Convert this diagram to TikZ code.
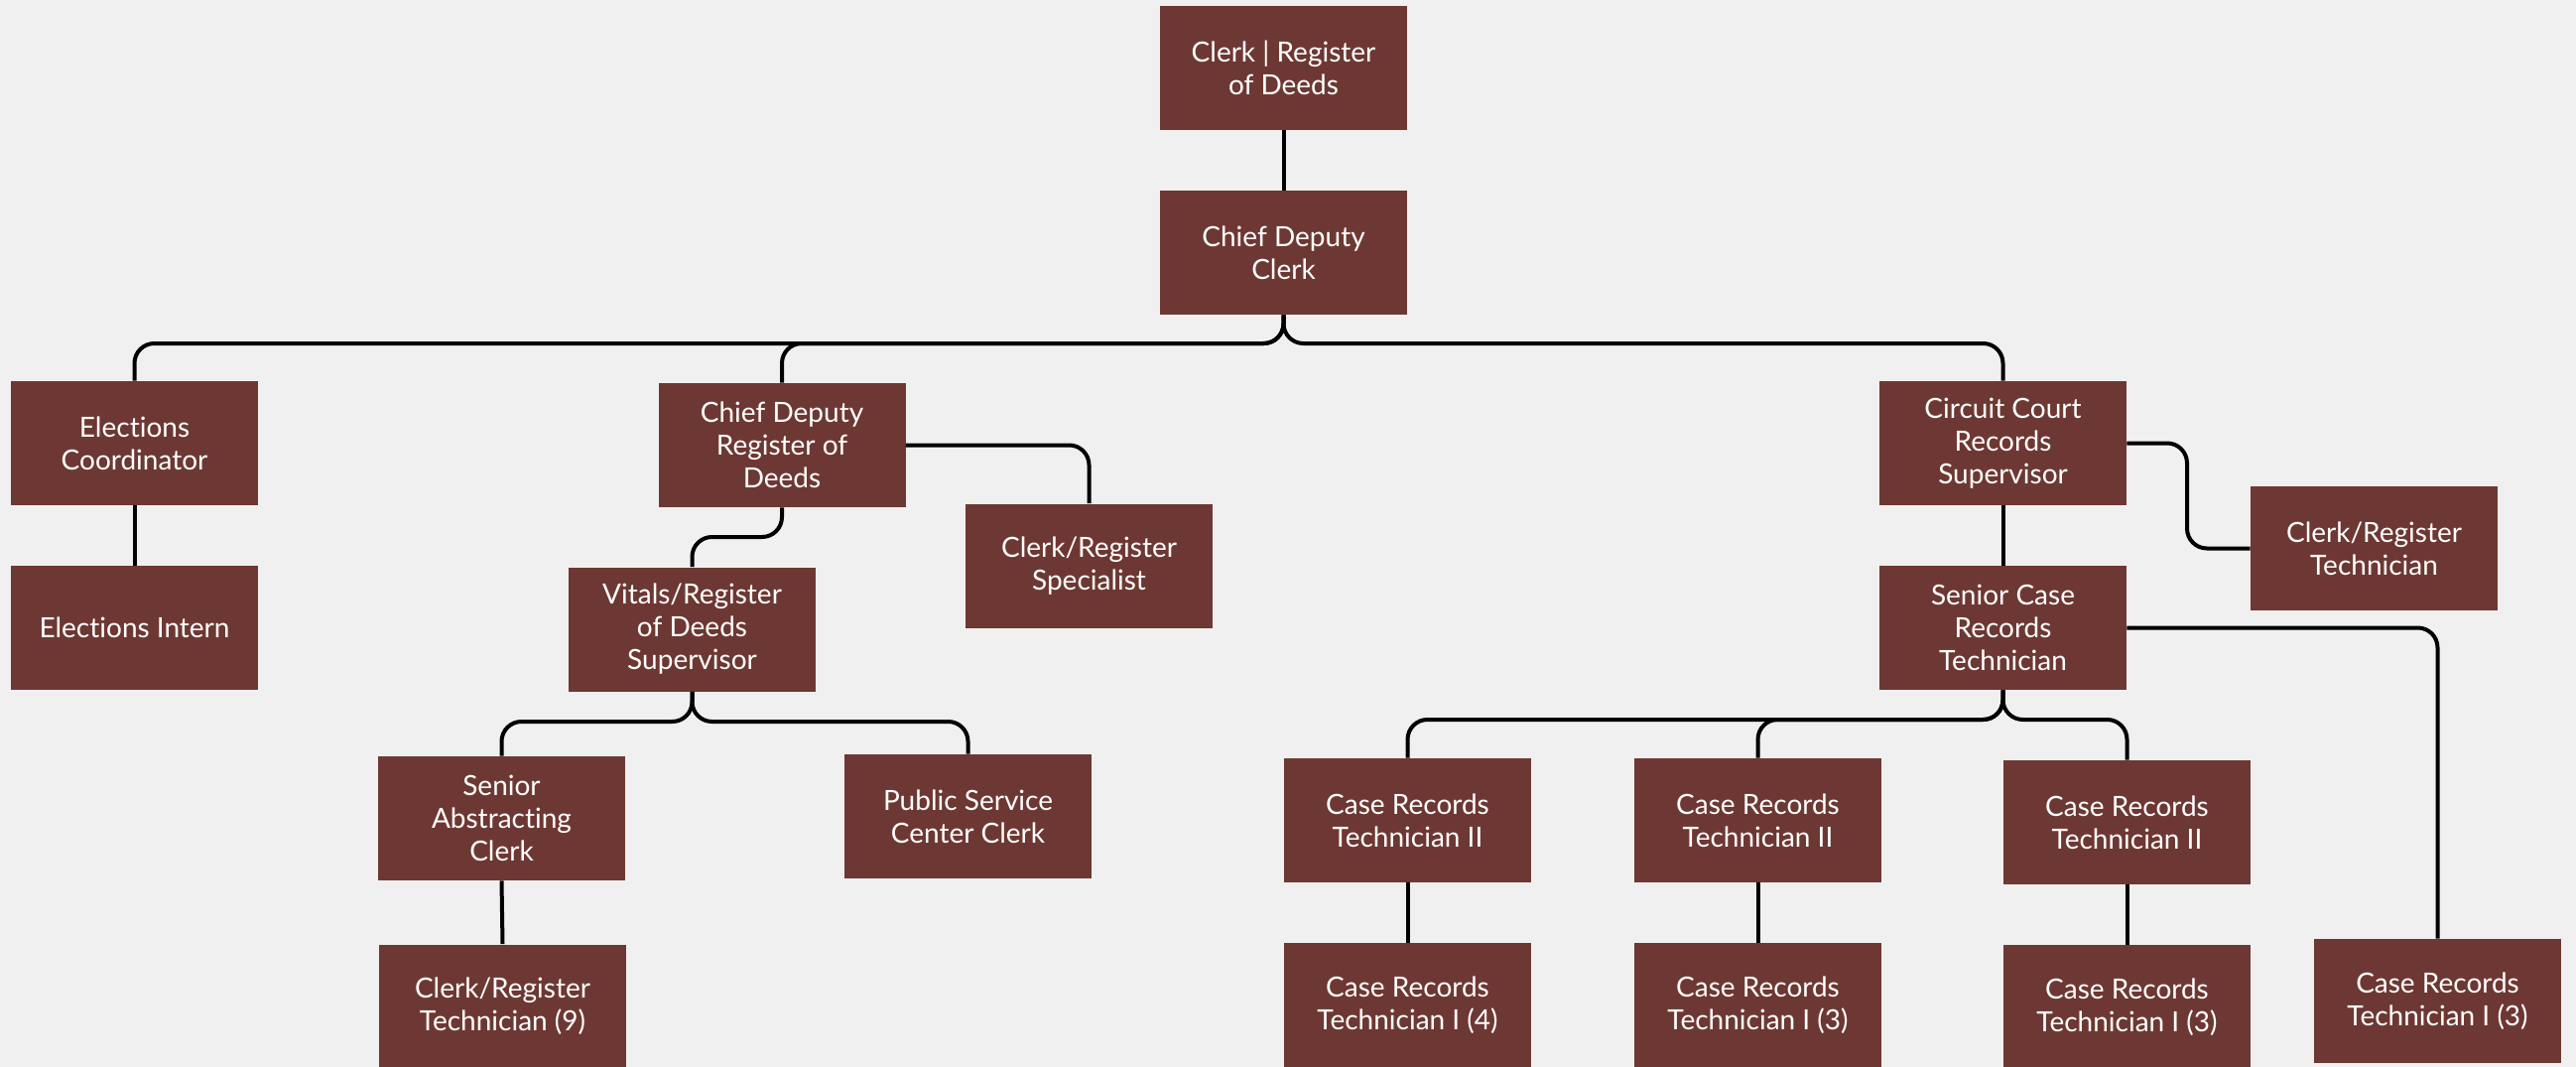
\documentclass[tikz,border=0pt]{standalone}
\usepackage{fontspec}
\setmainfont[Ligatures=NoCommon]{Lato}
\definecolor{boxc}{HTML}{6D3833}
\definecolor{bgc}{HTML}{F0F0F0}
\begin{document}
\begin{tikzpicture}[x=0.5pt,y=-0.5pt,
  rolebox/.style={fill=boxc,text=white,minimum width=124.5pt,minimum height=62.5pt,
    inner sep=0pt,align=center,font=\fontsize{14pt}{16.5pt}\selectfont},
  conn/.style={draw=black,line width=2pt,rounded corners=10pt}]
\fill[bgc] (0,0) rectangle (2596,1075);
\useasboundingbox (0,0) rectangle (2596,1075);
% nodes
\node[rolebox] (clerk) at (1293.5,68.5) {Clerk | Register\\of Deeds};
\node[rolebox] (cdc) at (1293.5,254.5) {Chief Deputy\\Clerk};
\node[rolebox] (elec) at (135.5,446.5) {Elections\\Coordinator};
\node[rolebox] (intern) at (135.5,632.5) {Elections Intern};
\node[rolebox] (cdr) at (788,448.5) {Chief Deputy\\Register of\\Deeds};
\node[rolebox] (spec) at (1097.5,570) {Clerk/Register\\Specialist};
\node[rolebox] (vitals) at (697.5,634) {Vitals/Register\\of Deeds\\Supervisor};
\node[rolebox] (sac) at (505.5,824.5) {Senior\\Abstracting\\Clerk};
\node[rolebox] (psc) at (975.5,822.5) {Public Service\\Center Clerk};
\node[rolebox] (crt9) at (506.5,1014) {Clerk/Register\\Technician (9)};
\node[rolebox] (ccrs) at (2018.5,446.5) {Circuit Court\\Records\\Supervisor};
\node[rolebox] (crtech) at (2392.5,552.5) {Clerk/Register\\Technician};
\node[rolebox] (scrt) at (2018.5,632.5) {Senior Case\\Records\\Technician};
\node[rolebox] (c2a) at (1418.5,826.5) {Case Records\\Technician II};
\node[rolebox] (c2b) at (1771.5,826.5) {Case Records\\Technician II};
\node[rolebox] (c2c) at (2143.5,828.5) {Case Records\\Technician II};
\node[rolebox] (c1a) at (1418.5,1012.5) {Case Records\\Technician I (4)};
\node[rolebox] (c1b) at (1771.5,1012.5) {Case Records\\Technician I (3)};
\node[rolebox] (c1c) at (2143.5,1014.5) {Case Records\\Technician I (3)};
\node[rolebox] (c1d) at (2456.5,1008.5) {Case Records\\Technician I (3)};
% bar levels
\coordinate (barA) at (0,346);
\coordinate (barB) at (0,541);
\coordinate (barC) at (0,727);
\coordinate (barD) at (0,725);
\coordinate (colCr) at (2204,0);
% connectors
\draw[conn] (clerk.south) -- (cdc.north);
\draw[conn] (cdc.south) -- (cdc.south |- barA) -- (elec.north |- barA) -- (elec.north);
\draw[conn] (cdc.south) -- (cdc.south |- barA) -- (cdr.north |- barA) -- (cdr.north);
\draw[conn] (cdc.south) -- (cdc.south |- barA) -- (ccrs.north |- barA) -- (ccrs.north);
\draw[conn] (elec.south) -- (intern.north);
\draw[conn] (cdr.east) -| (spec.north);
\draw[conn] (cdr.south) -- (cdr.south |- barB) -- (vitals.north |- barB) -- (vitals.north);
\draw[conn] (vitals.south) -- (vitals.south |- barC) -- (sac.north |- barC) -- (sac.north);
\draw[conn] (vitals.south) -- (vitals.south |- barC) -- (psc.north |- barC) -- (psc.north);
\draw[conn] (sac.south) -- (crt9.north);
\draw[conn] (ccrs.east) -- (ccrs.east -| colCr) -- (crtech.west -| colCr) -- (crtech.west);
\draw[conn] (ccrs.south) -- (scrt.north);
\draw[conn] (scrt.east) -| (c1d.north);
\draw[conn] (scrt.south) -- (scrt.south |- barD) -- (c2a.north |- barD) -- (c2a.north);
\draw[conn] (scrt.south) -- (scrt.south |- barD) -- (c2b.north |- barD) -- (c2b.north);
\draw[conn] (scrt.south) -- (scrt.south |- barD) -- (c2c.north |- barD) -- (c2c.north);
\draw[conn] (c2a.south) -- (c1a.north);
\draw[conn] (c2b.south) -- (c1b.north);
\draw[conn] (c2c.south) -- (c1c.north);
\end{tikzpicture}
\end{document}
